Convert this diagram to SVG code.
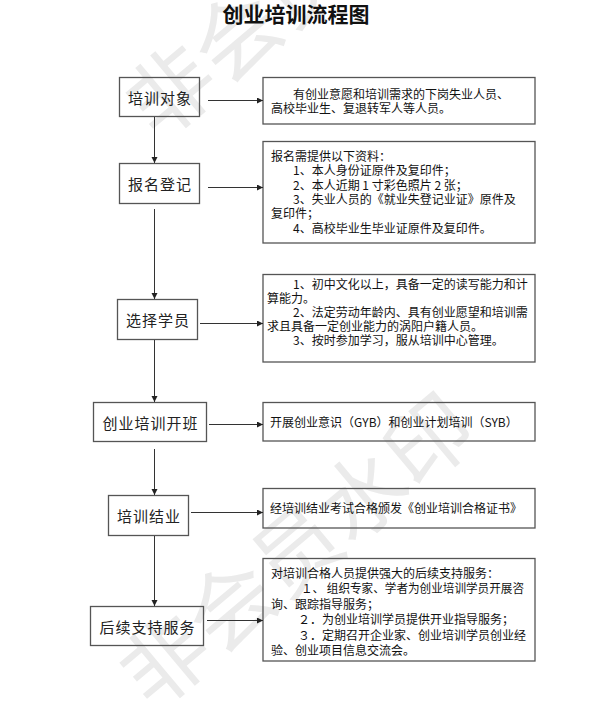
<svg xmlns="http://www.w3.org/2000/svg" width="600" height="723" viewBox="0 0 600 723">
<style>
.wm{font-family:"Noto Sans CJK SC","Noto Sans",sans-serif;font-size:86px;fill:#ebebeb}
.title{font-family:"Noto Sans CJK SC","Noto Sans",sans-serif;font-size:21px;font-weight:bold;fill:#111;text-anchor:middle}
.node rect{fill:none;stroke:#555;stroke-width:1.3}
.node text{font-family:"Noto Sans CJK SC","Noto Sans",sans-serif;font-size:15px;letter-spacing:1px;fill:#222;text-anchor:middle;dominant-baseline:central}
.box rect{fill:none;stroke:#555;stroke-width:1.3}
.box text{font-family:"Noto Sans CJK SC","Noto Sans",sans-serif;font-size:12px;fill:#111;dominant-baseline:central}
.conn line{stroke:#333;stroke-width:1}
</style>
<defs>
<marker id="ah" markerUnits="userSpaceOnUse" markerWidth="7" markerHeight="7" refX="6" refY="3" orient="auto">
<path d="M0,0 L6,3 L0,6 Z" fill="#222"/>
</marker>
</defs>
<rect width="600" height="723" fill="#fff"/>
<g id="watermark">
<text class="wm" transform="translate(172,92) rotate(-40)" x="-43" y="30">非会员水印</text>
<text class="wm" transform="translate(166,662) rotate(-40)" x="-43" y="30">非会员水印</text>
</g>
<text class="title" x="296" y="22">创业培训流程图</text>
<g id="n1" class="node"><rect x="119.5" y="77.5" width="80" height="39"/><text x="160" y="97">培训对象</text></g>
<g id="n2" class="node"><rect x="119.5" y="163.5" width="80" height="40"/><text x="160" y="183.5">报名登记</text></g>
<g id="n3" class="node"><rect x="117.5" y="299.5" width="80" height="40"/><text x="158" y="319.5">选择学员</text></g>
<g id="n4" class="node"><rect x="93.5" y="402.5" width="113" height="39"/><text x="150.5" y="422">创业培训开班</text></g>
<g id="n5" class="node"><rect x="108.5" y="495.5" width="80" height="40"/><text x="149" y="515.5">培训结业</text></g>
<g id="n6" class="node"><rect x="90.5" y="606.5" width="113" height="39"/><text x="147.5" y="626">后续支持服务</text></g>
<g id="b1" class="box"><rect x="263" y="77.5" width="272" height="46.5"/>
<text x="293" y="93">有创业意愿和培训需求的下岗失业人员、</text>
<text x="271" y="107">高校毕业生、复退转军人等人员。</text></g>
<g id="b2" class="box"><rect x="263" y="141.5" width="272" height="101.5"/>
<text x="271" y="155">报名需提供以下资料：</text>
<text x="293" y="169.5">1、本人身份证原件及复印件；</text>
<text x="293" y="184">2、本人近期 1 寸彩色照片 2 张；</text>
<text x="293" y="198">3、失业人员的《就业失登记业证》原件及</text>
<text x="271" y="212.5">复印件；</text>
<text x="293" y="227">4、高校毕业生毕业证原件及复印件。</text></g>
<g id="b3" class="box"><rect x="263" y="274.5" width="272" height="87.5"/>
<text x="293" y="283">1、初中文化以上，具备一定的读写能力和计</text>
<text x="267" y="297">算能力。</text>
<text x="293" y="311">2、法定劳动年龄内、具有创业愿望和培训需</text>
<text x="267" y="325">求且具备一定创业能力的涡阳户籍人员。</text>
<text x="293" y="339">3、按时参加学习，服从培训中心管理。</text></g>
<g id="b4" class="box"><rect x="263" y="402.5" width="272" height="38.5"/>
<text x="270" y="421">开展创业意识（GYB）和创业计划培训（SYB）</text></g>
<g id="b5" class="box"><rect x="263" y="488.5" width="272" height="39.5"/>
<text x="270" y="507">经培训结业考试合格颁发《创业培训合格证书》</text></g>
<g id="b6" class="box"><rect x="263" y="558.5" width="272" height="102.5"/>
<text x="271" y="572">对培训合格人员提供强大的后续支持服务：</text>
<text x="301" y="587.5" textLength="223" lengthAdjust="spacingAndGlyphs">１、 组织专家、学者为创业培训学员开展咨</text>
<text x="271" y="603">询、跟踪指导服务；</text>
<text x="298" y="618.5">２．为创业培训学员提供开业指导服务；</text>
<text x="298" y="634">３．定期召开企业家、创业培训学员创业经</text>
<text x="271" y="649.5">验、创业项目信息交流会。</text></g>
<g id="connectors" class="conn">
<line x1="154.5" y1="117" x2="154.5" y2="163" marker-end="url(#ah)"/>
<line x1="154.5" y1="209" x2="154.5" y2="299" marker-end="url(#ah)"/>
<line x1="154.5" y1="340" x2="154.5" y2="402" marker-end="url(#ah)"/>
<line x1="154.5" y1="449" x2="154.5" y2="495" marker-end="url(#ah)"/>
<line x1="154.5" y1="536" x2="154.5" y2="606" marker-end="url(#ah)"/>
<line x1="208" y1="100.5" x2="263" y2="100.5" marker-end="url(#ah)"/>
<line x1="208" y1="187.5" x2="263" y2="187.5" marker-end="url(#ah)"/>
<line x1="200" y1="323.5" x2="263" y2="323.5" marker-end="url(#ah)"/>
<line x1="209" y1="424.5" x2="263" y2="424.5" marker-end="url(#ah)"/>
<line x1="191" y1="512.5" x2="263" y2="512.5" marker-end="url(#ah)"/>
<line x1="207" y1="620.5" x2="263" y2="620.5" marker-end="url(#ah)"/>
</g>
</svg>
